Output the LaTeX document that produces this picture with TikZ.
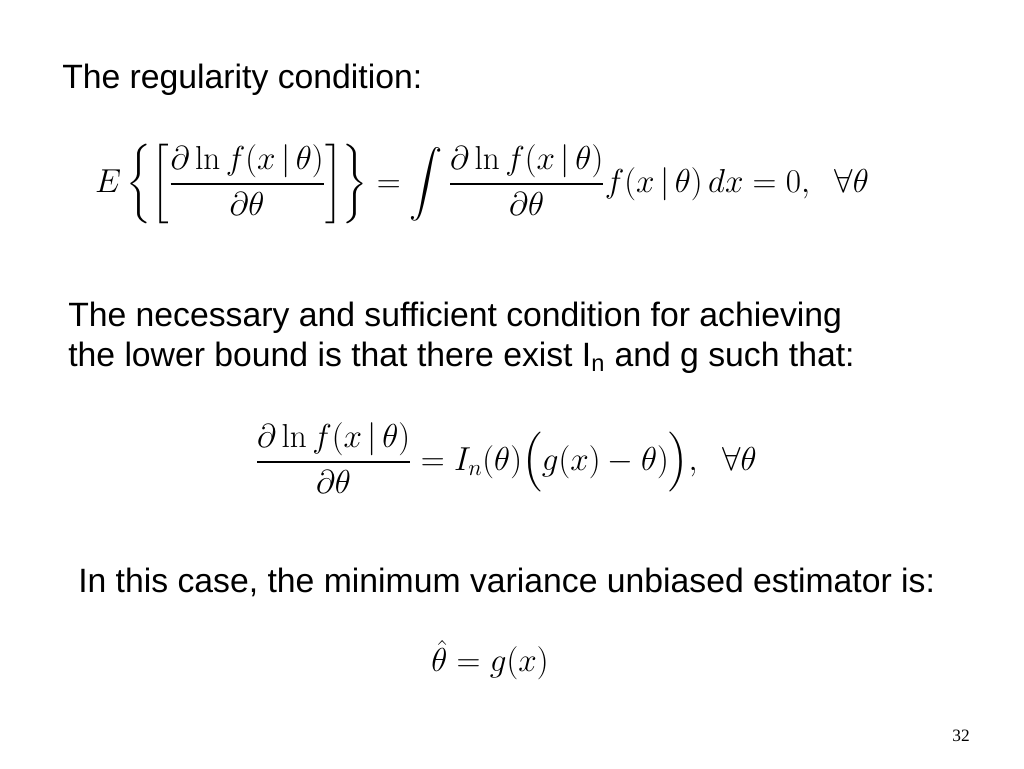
\documentclass[tikz,border=0pt]{standalone}
\usepackage{amsmath}
\usepackage[no-math]{fontspec}
\setmainfont{Liberation Sans}
\newfontfamily\numfont{Liberation Serif}
\usetikzlibrary{positioning}

\begin{document}
\begin{tikzpicture}[
    x=0.75pt, y=-0.75pt,
    txt/.style={anchor=west, align=left, inner sep=0pt, font=\fontsize{25.3}{30}\selectfont},
    eqn/.style={inner sep=0pt, font=\fontsize{25.5}{30}\selectfont}
]
\useasboundingbox (0,0) rectangle (1024,768);

% Regularity condition
\node[txt] (title) at (62,80) {The regularity condition:};
\node[eqn] (regular) at (482,184) {$\displaystyle E\left\{\left[\frac{\partial\ln f(x\,|\,\theta)}{\partial\theta}\right]\right\}
  =\int\frac{\partial\ln f(x\,|\,\theta)}{\partial\theta}f(x\,|\,\theta)\,dx=0,\ \ \forall\theta$};

% Lower bound condition
\node[txt, anchor=north west] (bound) at (68,302) {The necessary and sufficient condition for achieving\\the lower bound is that there exist I\textsubscript{n} and g such that:};
\node[eqn] (score) at (506,458) {$\displaystyle \frac{\partial\ln f(x\,|\,\theta)}{\partial\theta}=I_n(\theta)\Bigl(g(x)-\theta)\Bigr),\ \ \forall\theta$};

% Estimator
\node[txt] (mvue) at (78,582) {In this case, the minimum variance unbiased estimator is:};
\node[eqn] (estim) at (490,660) {$\hat\theta=g(x)$};

\node[inner sep=0pt, font=\numfont\fontsize{13}{15}\selectfont] (page) at (961,736) {32};
\end{tikzpicture}
\end{document}
